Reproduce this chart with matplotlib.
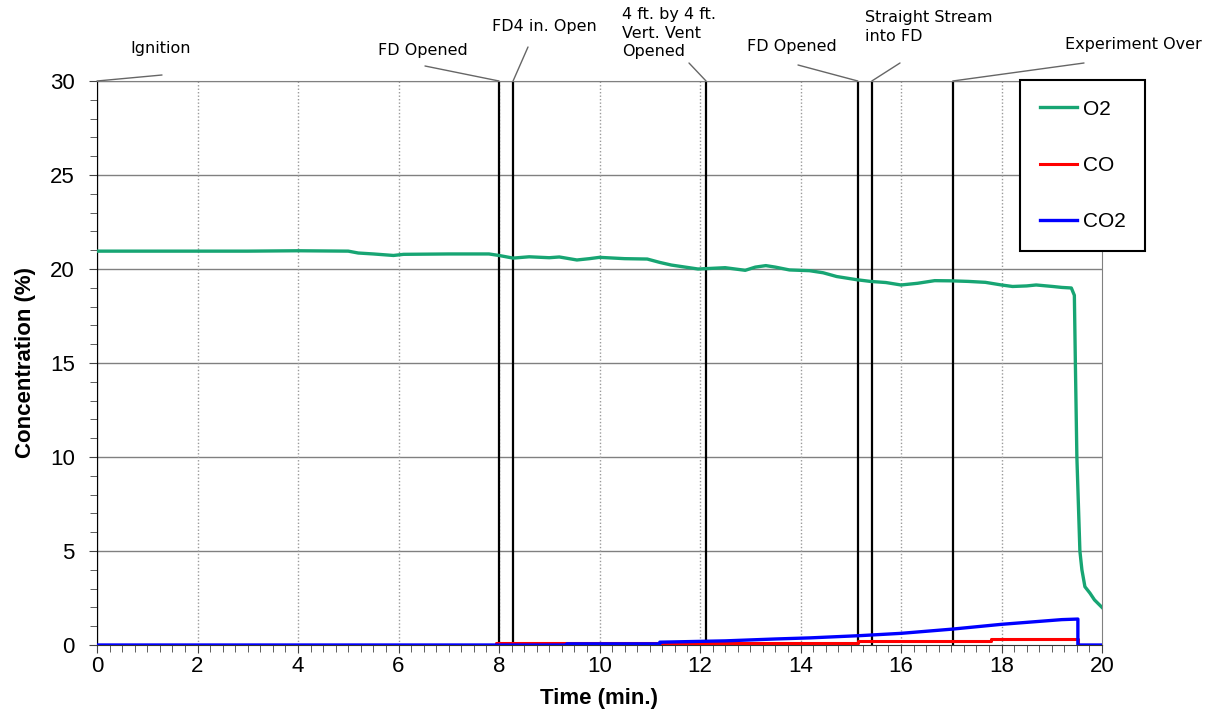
import numpy as np
import matplotlib.pyplot as plt

# O2 concentration (%) vs time (min)
o2_t = [0, 1, 2, 3, 4, 5.0, 5.2, 5.5, 5.9, 6.1, 7.0, 7.8, 8.0, 8.28, 8.6, 9.0, 9.2, 9.55, 9.8,
        10.0, 10.5, 10.95, 11.2, 11.43, 11.96, 12.2, 12.5, 12.9, 13.1, 13.31, 13.5, 13.78,
        14.18, 14.45, 14.72, 15.12, 15.39, 15.7, 16.0, 16.33, 16.67, 17.0, 17.34, 17.68,
        18.0, 18.22, 18.5, 18.69, 19.02, 19.2, 19.39, 19.45, 19.47, 19.5, 19.56, 19.6,
        19.66, 19.76, 19.85, 20.0]
o2_v = [20.95, 20.95, 20.95, 20.95, 20.97, 20.95, 20.85, 20.8, 20.72, 20.78, 20.8, 20.8,
        20.72, 20.58, 20.65, 20.6, 20.64, 20.48, 20.55, 20.62, 20.55, 20.53, 20.35, 20.21,
        20.0, 20.03, 20.07, 19.93, 20.1, 20.18, 20.1, 19.95, 19.91, 19.8, 19.6, 19.43,
        19.34, 19.28, 19.15, 19.24, 19.38, 19.37, 19.34, 19.29, 19.15, 19.07, 19.1, 19.15,
        19.07, 19.02, 18.99, 18.6, 15.0, 10.0, 5.0, 4.0, 3.1, 2.76, 2.4, 2.0]

co_t = [0, 7.95, 7.95, 11.2, 11.2, 15.15, 15.15, 17.8, 17.8, 19.52, 19.52, 20]
co_v = [0, 0, 0.08, 0.08, 0.12, 0.12, 0.22, 0.22, 0.3, 0.3, 0, 0]

co2_t = [0, 9.35, 9.35, 11.2, 11.2, 12.5, 13.5, 14.2, 15.2, 16.0, 17.0, 18.0, 19.2, 19.52, 19.52, 20]
co2_v = [0, 0, 0.06, 0.06, 0.15, 0.22, 0.32, 0.38, 0.5, 0.62, 0.84, 1.1, 1.35, 1.38, 0, 0]

event_t = [0, 8.0, 8.28, 12.12, 15.14, 15.42, 17.03]
event_labels = ['Ignition', 'FD Opened', 'FD4 in. Open', '4 ft. by 4 ft.\nVert. Vent\nOpened',
                'FD Opened', 'Straight Stream\ninto FD', 'Experiment Over']
# label placement in image pixels (x, y from top), alignment, start of leader line
label_xy = [(161, 48), (423, 50), (544, 26), (622, 33), (792, 46), (865, 27), (1133, 44)]
label_ha = ['center', 'center', 'center', 'left', 'center', 'left', 'center']
leader_xy = [(162, 75), (425, 66), (528, 47), (689, 63), (798, 65), (900, 63), (1084, 63)]

W, H = 1220, 715
fig = plt.figure(figsize=(W / 100, H / 100), dpi=100)
ax = fig.add_axes([97 / W, 1 - 645 / H, (1102 - 97) / W, (645 - 81) / H])

ax.set_xlim(0, 20)
ax.set_ylim(0, 30)

# grid
for y in range(5, 31, 5):
    ax.axhline(y, color='#808080', lw=1, zorder=1)
for x in range(2, 20, 2):
    ax.axvline(x, color='#9a9a9a', lw=1, ls=(0, (1, 1.5)), zorder=1)

# event lines
for t in event_t:
    ax.axvline(t, color='black', lw=1.6, zorder=2)

ax.plot(o2_t, o2_v, color='#17a573', lw=2.4, label='O2', zorder=3)
ax.plot(co_t, co_v, color='#ff0000', lw=2.2, label='CO', zorder=3)
ax.plot(co2_t, co2_v, color='#0000ff', lw=2.4, label='CO2', zorder=4)

ax.set_xticks(range(0, 21, 2))
ax.set_xticks(np.arange(0, 20.01, 0.25), minor=True)
ax.set_yticks(range(0, 31, 5))
ax.set_yticks(range(0, 31), minor=True)
ax.tick_params(which='both', direction='out', color='#444444', labelsize=16,
               labelfontfamily='Liberation Sans')
ax.tick_params(which='major', length=6)
ax.tick_params(which='minor', length=5)
ax.tick_params(axis='x', pad=2)
ax.tick_params(axis='y', pad=10)

ax.spines['left'].set_color('black')
ax.spines['bottom'].set_color('#333333')
ax.spines['right'].set_color('#808080')
ax.spines['top'].set_color('#808080')

ax.set_xlabel('Time (min.)', fontsize=16, fontweight='bold', family='Liberation Sans', labelpad=8)
ax.set_ylabel('Concentration (%)', fontsize=16, fontweight='bold', family='Liberation Sans', labelpad=10)

# event labels with leader lines
for i in range(len(event_t)):
    tx, ty = label_xy[i]
    fig.text(tx / W, 1 - ty / H, event_labels[i], ha=label_ha[i], va='center',
             fontsize=11.5, family='DejaVu Sans', linespacing=1.3)
    lx, ly = leader_xy[i]
    ax.annotate('', xy=(event_t[i], 30), xycoords='data',
                xytext=(lx, H - ly), textcoords='figure pixels',
                arrowprops=dict(arrowstyle='-', color='#666666', lw=1, shrinkA=0, shrinkB=0),
                annotation_clip=False)

leg = fig.legend(loc='upper left', bbox_to_anchor=(1020 / W, 1 - 80 / H),
                 bbox_transform=fig.transFigure, borderaxespad=0, fancybox=False,
                 edgecolor='black', framealpha=1, labelspacing=1.78,
                 handlelength=1.8, handletextpad=0.25, borderpad=0.95,
                 prop={'family': 'Liberation Sans', 'size': 15})
leg.get_frame().set_linewidth(1.5)

fig.savefig('out.png', dpi=100)
